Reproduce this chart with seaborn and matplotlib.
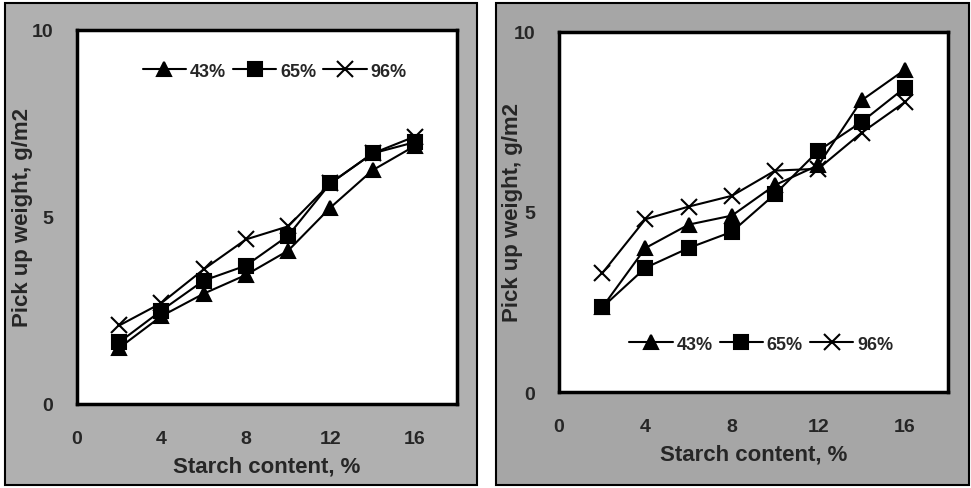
import numpy as np
import pandas as pd
import matplotlib
matplotlib.use("Agg")
import matplotlib.pyplot as plt
import seaborn as sns
from matplotlib.patches import Rectangle

# starch content, %
starch = [2, 4, 6, 8, 10, 12, 14, 16]
series = ["43%", "65%", "96%"]

# left panel, pick up weight g/m2
left_43 = [1.5, 2.35, 2.95, 3.45, 4.1, 5.25, 6.25, 6.9]
left_65 = [1.65, 2.5, 3.3, 3.7, 4.5, 5.9, 6.7, 7.0]
left_96 = [2.1, 2.7, 3.6, 4.4, 4.75, 5.9, 6.7, 7.15]

# right panel, pick up weight g/m2
right_43 = [2.35, 4.0, 4.65, 4.9, 5.75, 6.3, 8.1, 8.95]
right_65 = [2.35, 3.45, 4.0, 4.45, 5.5, 6.7, 7.5, 8.45]
right_96 = [3.3, 4.8, 5.15, 5.45, 6.15, 6.2, 7.2, 8.05]

markers = {"43%": "^", "65%": "s", "96%": "x"}

sns.set_style("white")
plt.rcParams["font.family"] = ["Liberation Sans", "DejaVu Sans"]
plt.rcParams["font.weight"] = "bold"

fig = plt.figure(figsize=(9.71, 4.89), dpi=100)
fig.patch.set_facecolor("white")

W, H = 971, 489
def fx(px):
    return px / W
def fy(py):
    return 1 - py / H

# gray panel backgrounds with frames
fig.patches.append(Rectangle((fx(5), fy(486)), fx(472), 482 / H, transform=fig.transFigure,
                             facecolor="#b0b0b0", edgecolor="black", linewidth=1.5, zorder=-10))
fig.patches.append(Rectangle((fx(496), fy(486)), fx(473), 482 / H, transform=fig.transFigure,
                             facecolor="#a6a6a6", edgecolor="black", linewidth=1.5, zorder=-10))

ax1 = fig.add_axes([fx(77), fy(405), fx(380), 374 / H])
ax2 = fig.add_axes([fx(559), fy(393), fx(389), 360 / H])

panels = [
    (ax1, [left_43, left_65, left_96], (0.52, 0.89), 0.116),
    (ax2, [right_43, right_65, right_96], (0.52, 0.133), 0.093),
]

for ax, vals, leg_pos, lab_off in panels:
    for name, y in zip(series, vals):
        ms = 11 if markers[name] == "x" else 10
        sns.lineplot(x=starch, y=y, color="black", marker=markers[name],
                     markersize=ms, linewidth=1.5, markeredgewidth=1.5,
                     markeredgecolor="black", markerfacecolor="black",
                     label=name, ax=ax)
    ax.set_facecolor("white")
    ax.set_xlim(0, 18)
    ax.set_ylim(0, 10)
    ax.set_xticks([0, 4, 8, 12, 16])
    ax.set_yticks([0, 5, 10])
    ax.tick_params(axis="x", length=0, pad=19, labelsize=14)
    ax.tick_params(axis="y", length=3, width=1.5, pad=14, labelsize=14, direction="out")
    for lab in ax.get_xticklabels() + ax.get_yticklabels():
        lab.set_fontweight("bold")
    for sp in ax.spines.values():
        sp.set_visible(True)
        sp.set_color("black")
        sp.set_linewidth(2.5)
    ax.set_xlabel("Starch content, %", fontsize=16, fontweight="bold", labelpad=6)
    ax.set_ylabel("Pick up weight, g/m2", fontsize=16, fontweight="bold")
    ax.yaxis.set_label_coords(-lab_off, 0.5)
    handles, labels = ax.get_legend_handles_labels()
    ax.legend(handles, labels, loc="center", bbox_to_anchor=leg_pos, ncol=3,
              frameon=False, handlelength=2.4, handletextpad=0.2, columnspacing=0.4,
              prop={"weight": "bold", "size": 13})

fig.savefig("out.png", dpi=100, facecolor=fig.get_facecolor())
